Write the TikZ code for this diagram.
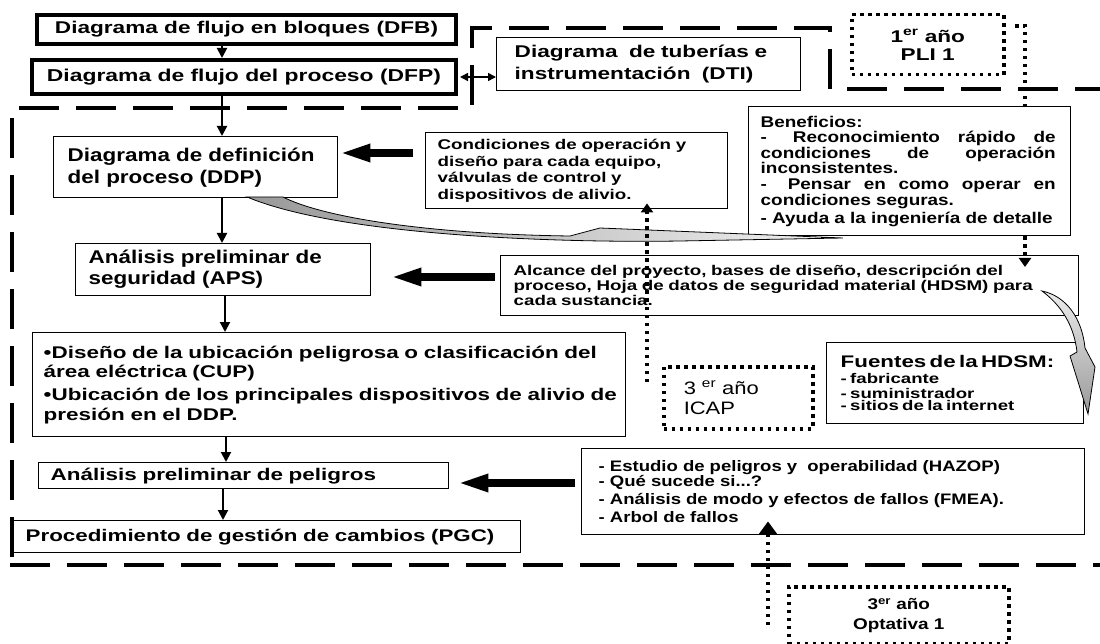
\documentclass[tikz,border=0pt]{standalone}
\usepackage{fontspec}
\setmainfont{Liberation Sans}
\newfontfamily\fV[FakeStretch=1.33]{Liberation Sans}
\newfontfamily\fU[FakeStretch=1.22]{Liberation Sans}
\usetikzlibrary{arrows.meta,calc}
\newcommand\fsz[2]{\fontsize{#1}{#2}\selectfont}
\begin{document}
\begin{tikzpicture}[x=1pt,y=-1pt,
  box/.style={draw, line width=1.4pt, fill=white, inner sep=0pt, anchor=north west, align=left},
  dotbox/.style={box, line width=3.5pt, dash pattern=on 3.5pt off 4.5pt},
  arr/.style={line width=2pt, -{Triangle[length=10pt,width=10pt]}},
  big/.style={line width=8.5pt, -{Triangle[length=32pt,width=16pt]}},
  dots/.style={line width=3.5pt, dash pattern=on 3.5pt off 4.5pt},
  dtip/.style={-{Triangle[length=9pt,width=12pt]}},
  dashln/.style={line width=4pt, dash pattern=on 40pt off 17pt},
  swoosh/.style={draw=black, line width=0.8pt}]
\useasboundingbox (0,0) rectangle (1100,644);
\fill[white] (0,0) rectangle (1100,644);

% dashed region borders
\draw[dashln] (12,557) -- (12,108) -- (472,108) -- (472,28) -- (830,28) -- (830,89) -- (1100,89);
\draw[dashln] (10,565) -- (1100,565);

% coordinates for free ends / alignment
\coordinate (plistart) at (1015,26);
\coordinate (plix) at (1025,26);
\coordinate (icapfoot) at (647,382);
\coordinate (optfoot) at (768,625);
\coordinate (cx) at (222,0);
\coordinate (cx2) at (225,0);
\coordinate (cx3) at (226,0);
\coordinate (cx4) at (223,0);
\coordinate (ya) at (0,153);
\coordinate (yb) at (0,277);
\coordinate (yc) at (0,483);

% boxes
\node[box, line width=4pt, align=center, minimum width=419pt, minimum height=29pt,
  font=\fV\bfseries\fsz{17}{20}] (dfb) at (35,13) {Diagrama de flujo en bloques (DFB)};
\node[box, line width=4pt, align=center, minimum width=424pt, minimum height=34pt,
  font=\fV\bfseries\fsz{17.2}{20}] (dfp) at (30,58) {Diagrama de flujo del proceso (DFP)};
\node[box, minimum width=304pt, minimum height=53pt, text width=268pt, inner xsep=18pt,
  font=\fV\bfseries\fsz{17}{22}] (dti) at (496,37)
  {\mbox{Diagrama\ \ de tuberías e}\\\mbox{instrumentación\ \ (DTI)}};
\node[dotbox, align=center, minimum width=152pt, minimum height=60pt,
  font=\fV\bfseries\fsz{17}{18}] (pli) at (850,13) {1\textsuperscript{er} año\\PLI 1};

% PLI dotted line, upper part (hidden behind Beneficios box)
\draw[dots] (plistart) -- (plix) -- (1025,106);

\node[box, minimum width=322pt, minimum height=129pt, text width=298pt, inner xsep=12pt,
  font=\fU\bfseries\fsz{15.5}{15.6}] (ben) at (748,106)
  {Beneficios:\\
   \makebox[295pt]{-\hfill\hspace{8pt}Reconocimiento\hfill rápido\hfill de}\\
   \makebox[295pt]{condiciones\hfill de\hfill operación}\\
   inconsistentes.\\
   \makebox[295pt]{-\hfill\hspace{8pt}Pensar\hfill en\hfill como\hfill operar\hfill en}\\
   condiciones seguras.\\[2.5pt]
   \mbox{- Ayuda a la ingeniería de detalle}};
\node[box, minimum width=302pt, minimum height=76pt, text width=278pt, inner xsep=12pt,
  font=\fV\bfseries\fsz{14.1}{16.7}] (cond) at (425,132)
  {\mbox{Condiciones de operación y}\\\mbox{diseño para cada equipo,}\\
   \mbox{válvulas de control y}\\\mbox{dispositivos de alivio.}};
\node[box, minimum width=284pt, minimum height=61pt, text width=256pt, inner xsep=14pt,
  font=\fU\bfseries\fsz{18.4}{22}] (ddp) at (53,136)
  {\mbox{Diagrama de definición}\\\mbox{del proceso (DDP)}};
\node[box, minimum width=295pt, minimum height=52pt, text width=269pt, inner xsep=13pt,
  font=\fU\bfseries\fsz{18.4}{21}] (aps) at (75,243)
  {\mbox{Análisis preliminar de}\\\mbox{seguridad (APS)}};
\node[box, minimum width=578pt, minimum height=60pt, text width=552pt, inner xsep=13pt,
  font=\fV\bfseries\fsz{14.1}{15}] (alc) at (500,255)
  {\mbox{Alcance del proyecto, bases de diseño, descripción del}\\
   \mbox{proceso, Hoja de datos de seguridad material (HDSM) para}\\
   \mbox{cada sustancia.}};
\node[box, minimum width=593pt, minimum height=104pt, text width=571pt, inner xsep=11pt,
  font=\fV\bfseries\fsz{16.9}{19.5}] (cup) at (32,332)
  {\mbox{•Diseño de la ubicación peligrosa o clasificación del}\\
   \mbox{área eléctrica (CUP)}\\[3.5pt]
   \mbox{•Ubicación de los principales dispositivos de alivio de}\\
   \mbox{presión en el DDP.}};
\node[box, minimum width=257pt, minimum height=81pt, text width=229pt, inner xsep=14pt,
  font=\fV\bfseries] (fue) at (826,342)
  {\fsz{16.8}{17.5}Fuentes de la HDSM:\\\fsz{14}{15.7}- fabricante\\- suministrador\\- sitios de la internet};
\node[dotbox, minimum width=149pt, minimum height=62pt, text width=109pt, inner xsep=20pt,
  font=\fU\fsz{18}{20}] (icap) at (662,365) {3 \textsuperscript{er} año\\ICAP};
\node[box, minimum width=410pt, minimum height=26pt, text width=386pt, inner xsep=12pt,
  font=\fV\bfseries\fsz{16.9}{18}] (pel) at (38,462) {\mbox{Análisis preliminar de peligros}};
\node[box, minimum width=507pt, minimum height=32pt, text width=483pt, inner xsep=12pt,
  font=\fV\bfseries\fsz{16.8}{18}] (pgc) at (13,520) {\mbox{Procedimiento de gestión de cambios (PGC)}};
\node[box, minimum width=503pt, minimum height=86pt, text width=469pt, inner xsep=17pt,
  font=\fU\bfseries\fsz{15.2}{15}] (haz) at (581,448)
  {\mbox{- Estudio de peligros y\ \ operabilidad (HAZOP)}\\[0pt]
   \mbox{- Qué sucede si...?}\\[3pt]
   \mbox{- Análisis de modo y efectos de fallos (FMEA).}\\[3pt]
   \mbox{- Arbol de fallos}};
\node[dotbox, align=center, minimum width=220pt, minimum height=57pt,
  font=\fU\bfseries\fsz{15.5}{20}] (opt) at (787,585) {3\textsuperscript{er} año\\Optativa 1};

% gray swoosh arrows
\shadedraw[swoosh, left color=gray!80, right color=gray!10]
  (283,197) .. controls (320,216) and (420,234) .. (570,236)
  -- (600,228) -- (843,238) -- (680,241)
  .. controls (560,243) and (340,236) .. (247,197) -- cycle;
\shadedraw[swoosh, top color=gray!15, bottom color=gray!80]
  (1042,291) .. controls (1066,296) and (1082,318) .. (1085,348)
  -- (1095,367) -- (1088,414) -- (1070,356) -- (1077,352)
  .. controls (1074,326) and (1062,306) .. (1042,291) -- cycle;

% vertical flow arrows
\draw[arr] (dfb.south -| cx) -- (dfp.north -| cx);
\draw[arr] (dfp.south -| cx) -- (ddp.north -| cx);
\draw[arr] (ddp.south -| cx) -- (aps.north -| cx);
\draw[arr] (aps.south -| cx2) -- (cup.north -| cx2);
\draw[arr] (cup.south -| cx3) -- (pel.north -| cx3);
\draw[arr] (pel.south -| cx4) -- (pgc.north -| cx4);
\draw[line width=1.5pt, {Triangle[length=8pt,width=8pt]}-{Triangle[length=8pt,width=8pt]}, shorten <=2pt]
  (dfp.east) -- (dti.west |- dfp.east);

% thick arrows
\draw[big, shorten <=12pt] (cond.west |- ya) -- (ddp.east |- ya);
\draw[big, shorten <=5pt, shorten >=18pt] (alc.west |- yb) -- (aps.east |- yb);
\draw[big, shorten <=6pt, shorten >=7pt] (haz.west |- yc) -- (pel.east |- yc);

% dotted arrows
\draw[dots, dtip] (icapfoot) -- ($(cond.south -| icapfoot)+(0,-6)$);
\draw[dots, dtip] (ben.south -| plix) -- ($(alc.north -| plix)+(0,12)$);
\draw[dots, -{Triangle[length=13pt,width=18pt]}] (optfoot) -- ($(haz.south -| optfoot)+(0,-14)$);
\end{tikzpicture}
\end{document}
